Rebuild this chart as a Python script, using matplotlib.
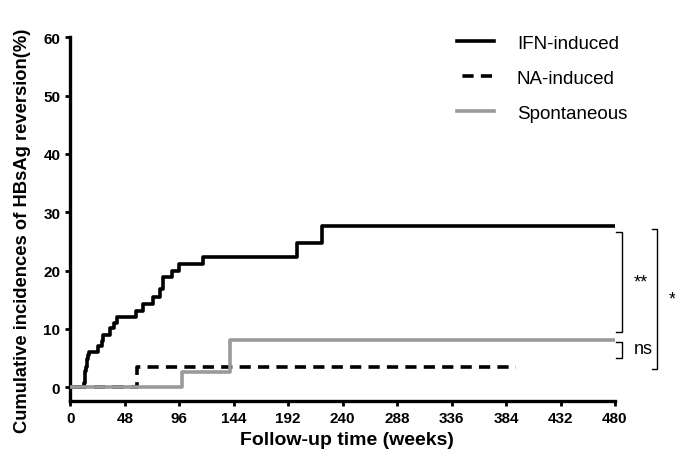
# Cumulative incidence of HBsAg reversion, Kaplan-Meier style step plot

import matplotlib
matplotlib.use('Agg')
import matplotlib.pyplot as plt

#### DATA ####

# IFN-induced group (weeks, cumulative %)
ifn_weeks = [0, 12.3, 12.5, 12.8, 13.2, 13.7, 14.3, 15.0, 15.8, 16.8, 24.0, 27.6, 29.0,
             34.9, 38.5, 40.8, 57.8, 63.7, 72.5, 79.0, 81.3, 89.3, 96.0, 117.1, 199.5,
             221.5, 480]
ifn_pct = [0, 0.7, 1.4, 2.1, 2.8, 3.5, 4.2, 4.9, 5.5, 6.0, 7.1, 8.0, 8.9,
           10.1, 11.0, 12.0, 13.1, 14.3, 15.4, 16.9, 18.9, 19.9, 21.1, 22.3, 24.8,
           27.7, 27.7]

# NA-induced group
na_weeks = [0, 59.1, 393]
na_pct = [0, 3.4, 3.4]

# Spontaneous group
sp_weeks = [0, 98.1, 140.7, 480]
sp_pct = [0, 2.7, 8.1, 8.1]

xticks = [0, 48, 96, 144, 192, 240, 288, 336, 384, 432, 480]
yticks = [0, 10, 20, 30, 40, 50, 60]

#### PLOT ####

plt.rcParams['font.family'] = ['Liberation Sans', 'DejaVu Sans']

fig = plt.figure(figsize=(6.75, 4.6), dpi=100)
ax = fig.add_axes([0.1043, 0.1267, 0.8068, 0.7900])

lw = 2.6
dash = (3.6, (3.1, 2.0))
grey = '#9a9a9a'

ax.plot(na_weeks, na_pct, drawstyle='steps-post', c='k', lw=lw, ls=dash,
        dash_capstyle='butt', label='NA-induced', zorder=2)
ax.plot(ifn_weeks, ifn_pct, drawstyle='steps-post', c='k', lw=lw,
        label='IFN-induced', zorder=3)
ax.plot(sp_weeks, sp_pct, drawstyle='steps-post', c=grey, lw=lw,
        label='Spontaneous', zorder=4)

ax.set_xlim(0, 480)
ax.set_ylim(-2.3, 60)
ax.set_xticks(xticks)
ax.set_yticks(yticks)

for side in ['top', 'right']:
    ax.spines[side].set_visible(False)
for side in ['left', 'bottom']:
    ax.spines[side].set_linewidth(2.4)
ax.tick_params(axis='both', direction='out', length=3.8, width=2.0,
               labelsize=11, pad=3.5)
for lab in ax.get_xticklabels() + ax.get_yticklabels():
    lab.set_fontweight('bold')

ax.set_xlabel('Follow-up time (weeks)', fontsize=14, fontweight='bold')
ax.set_ylabel('Cumulative incidences of HBsAg reversion(%)', fontsize=13.2,
              fontweight='bold')
ax.xaxis.set_label_coords(0.5075, -0.083)
ax.yaxis.set_label_coords(-0.0724, 0.47)

# legend in the order of the original
handles, labels = ax.get_legend_handles_labels()
order = [1, 0, 2]
ax.legend([handles[i] for i in order], [labels[i] for i in order],
          loc='upper left', bbox_to_anchor=(0.677, 0.922),
          bbox_transform=fig.transFigure, frameon=False, fontsize=13.5,
          handlelength=2.0, handletextpad=1.2, labelspacing=0.95,
          borderpad=0, borderaxespad=0)

### significance brackets ###

def bracket(x0, x1, ylo, yhi):
    ax.plot([x0, x1, x1, x0], [yhi, yhi, ylo, ylo], c='k', lw=1.0,
            clip_on=False, solid_joinstyle='miter')

bracket(480.9, 485.9, 9.4, 26.7)
bracket(480.9, 485.9, 5.1, 7.8)
bracket(512.4, 517.3, 3.1, 27.1)

ax.text(503, 18.1, '**', fontsize=13, ha='center', va='center', clip_on=False)
ax.text(504.7, 6.6, 'ns', fontsize=13, ha='center', va='center', clip_on=False)
ax.text(530.8, 15.2, '*', fontsize=13, ha='center', va='center', clip_on=False)

plt.savefig('out.png', dpi=100)
